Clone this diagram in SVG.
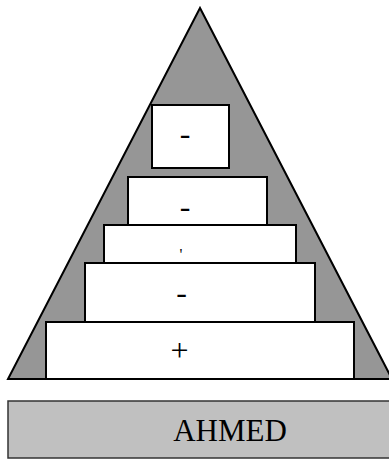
<svg xmlns="http://www.w3.org/2000/svg" width="389" height="459" viewBox="0 0 389 459">
<style>
.box{fill:#ffffff;stroke:#000000;stroke-width:2}
.lbl{font-family:"Liberation Serif","Times New Roman",serif;font-size:32px;fill:#000000;text-anchor:middle}
</style>
<rect x="0" y="0" width="389" height="459" fill="#ffffff"/>
<g id="pyramid">
<polygon points="200,8 8,379 392,379" fill="#969696" stroke="#000000" stroke-width="2" stroke-linejoin="miter"/>
</g>
<g id="level1">
<rect class="box" x="152" y="105" width="77" height="63"/>
<text class="lbl" x="185" y="144">-</text>
</g>
<g id="level2">
<rect class="box" x="128" y="177" width="139" height="48"/>
<text class="lbl" x="185" y="217">-</text>
</g>
<g id="level3">
<rect class="box" x="104" y="225" width="192" height="38"/>
<text class="lbl" x="181" y="260" style="font-size:16px">'</text>
</g>
<g id="level4">
<rect class="box" x="85" y="263" width="230" height="59"/>
<text class="lbl" x="181.5" y="303">-</text>
</g>
<g id="level5">
<rect class="box" x="46" y="322" width="308" height="57"/>
<text class="lbl" x="179.5" y="361">+</text>
</g>
<g id="base">
<rect x="8" y="401" width="392" height="57" fill="#c0c0c0" stroke="#333333" stroke-width="1.5"/>
<text class="lbl" x="230" y="441" style="font-size:31px">AHMED</text>
</g>
<g id="connectors"></g>
</svg>
